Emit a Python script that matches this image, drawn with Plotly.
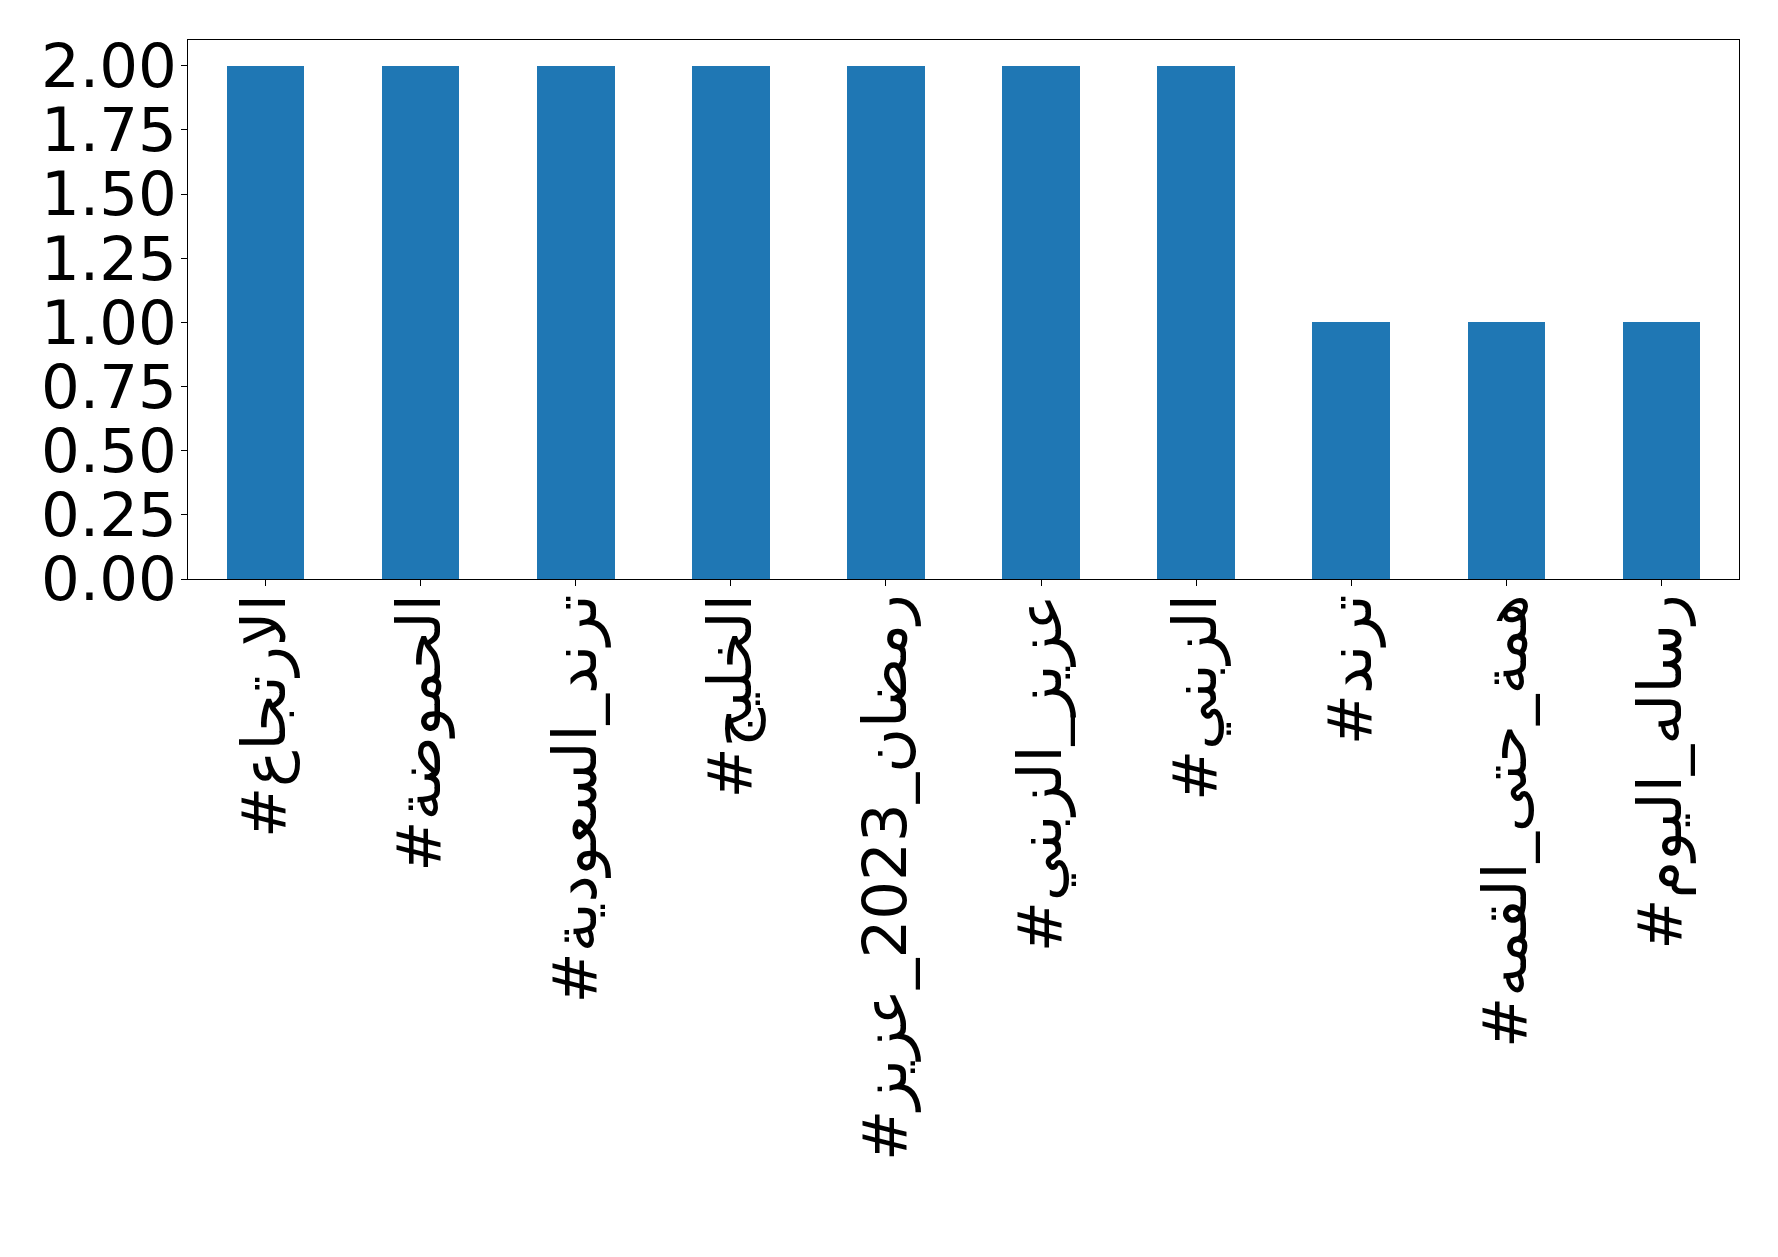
import plotly.graph_objects as go

categories = [
    "#الارتجاع",
    "#الحموضة",
    "#ترند_السعودية",
    "#الخليج",
    "#رمضان_2023_عزيز",
    "#عزيز_الزبني",
    "#الزبني",
    "#ترند",
    "#همة_حتى_القمه",
    "#رساله_اليوم",
]
counts = [2, 2, 2, 2, 2, 2, 2, 1, 1, 1]
y_ticks = [0, 0.25, 0.5, 0.75, 1.0, 1.25, 1.5, 1.75, 2.0]

fig = go.Figure(
    go.Bar(
        x=list(range(len(categories))),
        y=counts,
        width=0.5,
        marker=dict(color="#1f77b4", line=dict(width=0)),
    )
)

font_family = "DejaVu Sans, Noto Sans, sans-serif"

fig.update_layout(
    width=1778,
    height=1257,
    paper_bgcolor="white",
    plot_bgcolor="white",
    margin=dict(l=180, r=47, t=32, b=686, pad=0),
    showlegend=False,
    font=dict(family=font_family, size=61, color="black"),
    bargap=0,
)

fig.update_xaxes(
    range=[-0.5, 9.5],
    tickmode="array",
    tickvals=list(range(len(categories))),
    ticktext=categories,
    tickangle=-90,
    ticks="outside",
    ticklen=6,
    tickwidth=1,
    tickcolor="black",
    ticklabelstandoff=-16,
    showline=True,
    linecolor="black",
    linewidth=1,
    mirror=True,
    showgrid=False,
    zeroline=False,
    tickfont=dict(family=font_family, size=61, color="black"),
)

fig.update_yaxes(
    range=[0, 2.1],
    tickmode="array",
    tickvals=y_ticks,
    ticktext=[f"{v:.2f}" for v in y_ticks],
    ticks="outside",
    ticklen=6,
    tickwidth=1,
    tickcolor="black",
    ticklabelstandoff=-8,
    showline=True,
    linecolor="black",
    linewidth=1,
    mirror=True,
    showgrid=False,
    zeroline=False,
    tickfont=dict(family=font_family, size=61, color="black"),
)

fig.write_html("out.html")
